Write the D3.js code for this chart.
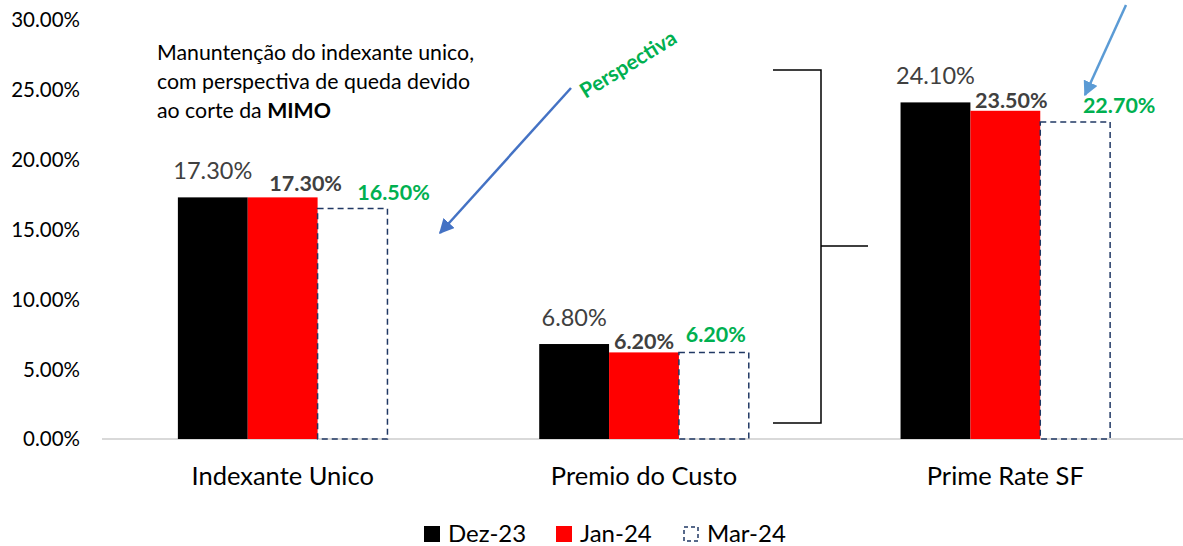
<!DOCTYPE html>
<html>
<head>
<meta charset="utf-8">
<script src="https://cdn.jsdelivr.net/npm/d3@7"></script>
<style>
  body { margin: 0; background: #fff; }
  svg { font-family: Lato, "Open Sans", sans-serif; }
</style>
</head>
<body>
<div id="chart"></div>
<script>
// data
var categories = ["Indexante Unico", "Premio do Custo", "Prime Rate SF"];
var seriesNames = ["Dez-23", "Jan-24", "Mar-24"];
var dez23 = [0.173, 0.068, 0.241];
var jan24 = [0.173, 0.062, 0.235];
var mar24 = [0.165, 0.062, 0.227];
var yTicks = [0, 0.05, 0.10, 0.15, 0.20, 0.25, 0.30];

// label nudges (layout only), per series then per category
var labelDx = [[0, 0, 0], [23, 0, 6], [41, 2, 44]];
var labelDy = [[-27, -26, -27], [-14, -11, -11], [-16, -18, -17]];

var W = 1183, H = 546;
var margin = {left: 102, right: -3, top: 20, bottom: 107};

var svg = d3.select("#chart").append("svg")
    .attr("width", W).attr("height", H);

var x0 = d3.scaleBand()
    .domain(categories)
    .range([margin.left, W - margin.right])
    .paddingInner(0.42)
    .paddingOuter(0.21);

var x1 = d3.scaleBand()
    .domain(seriesNames)
    .range([0, x0.bandwidth()]);

var y = d3.scaleLinear()
    .domain([0, 0.30])
    .range([H - margin.bottom, margin.top]);

var fmt = d3.format(".2%");

// y axis labels
svg.append("g").selectAll("text")
  .data(yTicks)
  .enter().append("text")
    .attr("x", 80)
    .attr("y", function(d) { return y(d); })
    .attr("dy", "0.36em")
    .attr("text-anchor", "end")
    .attr("font-size", 20.5)
    .attr("fill", "#000")
    .text(function(d) { return fmt(d); });

// baseline
svg.append("line")
    .attr("x1", margin.left).attr("x2", W)
    .attr("y1", y(0)).attr("y2", y(0))
    .attr("stroke", "#d9d9d9").attr("stroke-width", 2);

var series = [
  {name: "Dez-23", values: dez23},
  {name: "Jan-24", values: jan24},
  {name: "Mar-24", values: mar24}
];

var groups = svg.append("g").selectAll("g")
  .data(series)
  .enter().append("g");

groups.selectAll("rect")
  .data(function(s, si) { return s.values.map(function(v, i) { return {s: s.name, si: si, cat: categories[i], v: v}; }); })
  .enter().append("rect")
    .attr("x", function(d) { return x0(d.cat) + x1(d.s); })
    .attr("y", function(d) { return y(d.v); })
    .attr("width", x1.bandwidth())
    .attr("height", function(d) { return y(0) - y(d.v); })
    .attr("fill", function(d) { return d.si == 0 ? "#000" : d.si == 1 ? "#ff0000" : "none"; })
    .attr("stroke", function(d) { return d.si == 2 ? "#203864" : "none"; })
    .attr("stroke-width", 1.5)
    .attr("stroke-dasharray", function(d) { return d.si == 2 ? "6,4" : null; });

// value labels
groups.selectAll("text")
  .data(function(s, si) { return s.values.map(function(v, i) { return {s: s.name, si: si, i: i, cat: categories[i], v: v}; }); })
  .enter().append("text")
    .attr("x", function(d) { return x0(d.cat) + x1(d.s) + x1.bandwidth() / 2 + labelDx[d.si][d.i]; })
    .attr("y", function(d) { return y(d.v) + labelDy[d.si][d.i]; })
    .attr("dy", "0.36em")
    .attr("text-anchor", "middle")
    .attr("font-size", function(d) { return d.si == 0 ? 23.5 : 21.5; })
    .attr("font-weight", function(d) { return d.si == 0 ? "normal" : "bold"; })
    .attr("fill", function(d) { return d.si == 2 ? "#00b050" : "#404040"; })
    .text(function(d) { return fmt(d.v); });

// category labels
svg.append("g").selectAll("text")
  .data(categories)
  .enter().append("text")
    .attr("x", function(d) { return x0(d) + x0.bandwidth() / 2; })
    .attr("y", 476)
    .attr("dy", "0.36em")
    .attr("text-anchor", "middle")
    .attr("font-size", 25.5)
    .attr("fill", "#000")
    .text(function(d) { return d; });

// annotation text
var note = svg.append("text")
    .attr("x", 157).attr("y", 52)
    .attr("font-size", 21.3).attr("fill", "#000");
note.append("tspan").attr("x", 157).attr("dy", "0.36em").text("Manuntenção do indexante unico,");
note.append("tspan").attr("x", 157).attr("dy", 29).text("com perspectiva de queda devido");
note.append("tspan").attr("x", 157).attr("dy", 29).text("ao corte da ");
note.append("tspan").attr("font-weight", "bold").text("MIMO");

svg.append("text")
    .attr("transform", "translate(628,64) rotate(-31.5)")
    .attr("text-anchor", "middle")
    .attr("dy", "0.36em")
    .attr("font-size", 21)
    .attr("font-weight", "bold")
    .attr("fill", "#00b050")
    .text("Perspectiva");

// arrows
var defs = svg.append("defs");
function marker(id, col) {
  defs.append("marker")
      .attr("id", id)
      .attr("viewBox", "0 0 10 10")
      .attr("refX", 9).attr("refY", 5)
      .attr("markerWidth", 6).attr("markerHeight", 6)
      .attr("markerUnits", "strokeWidth")
      .attr("orient", "auto")
    .append("path")
      .attr("d", "M0,0 L10,5 L0,10 Z")
      .attr("fill", col);
}
marker("ah1", "#4472c4");
marker("ah2", "#5b9bd5");

svg.append("line")
    .attr("x1", 571).attr("y1", 88).attr("x2", 440).attr("y2", 233)
    .attr("stroke", "#4472c4").attr("stroke-width", 2.5)
    .attr("marker-end", "url(#ah1)");

svg.append("line")
    .attr("x1", 1126).attr("y1", 5).attr("x2", 1085).attr("y2", 95)
    .attr("stroke", "#5b9bd5").attr("stroke-width", 2.5)
    .attr("marker-end", "url(#ah2)");

// bracket
svg.append("path")
    .attr("d", "M773,70 H821 V423 H773 M821,246 H868")
    .attr("fill", "none")
    .attr("stroke", "#000")
    .attr("stroke-width", 1.5);

// legend
var legend = svg.append("g").selectAll("g")
  .data(seriesNames)
  .enter().append("g")
    .attr("transform", function(d, i) { return "translate(" + [424, 556, 683][i] + ",526)"; });

legend.append("rect")
    .attr("x", function(d, i) { return i == 2 ? 1 : 0; })
    .attr("y", function(d, i) { return i == 2 ? 1 : 0; })
    .attr("width", function(d, i) { return i == 2 ? 14 : 16; })
    .attr("height", function(d, i) { return i == 2 ? 14 : 16; })
    .attr("fill", function(d, i) { return i == 0 ? "#000" : i == 1 ? "#ff0000" : "none"; })
    .attr("stroke", function(d, i) { return i == 2 ? "#203864" : "none"; })
    .attr("stroke-width", 1.5)
    .attr("stroke-dasharray", function(d, i) { return i == 2 ? "4,3" : null; });

legend.append("text")
    .attr("x", 24)
    .attr("y", 8)
    .attr("dy", "0.34em")
    .attr("font-size", 24)
    .attr("fill", "#000")
    .text(function(d) { return d; });
</script>
</body>
</html>
